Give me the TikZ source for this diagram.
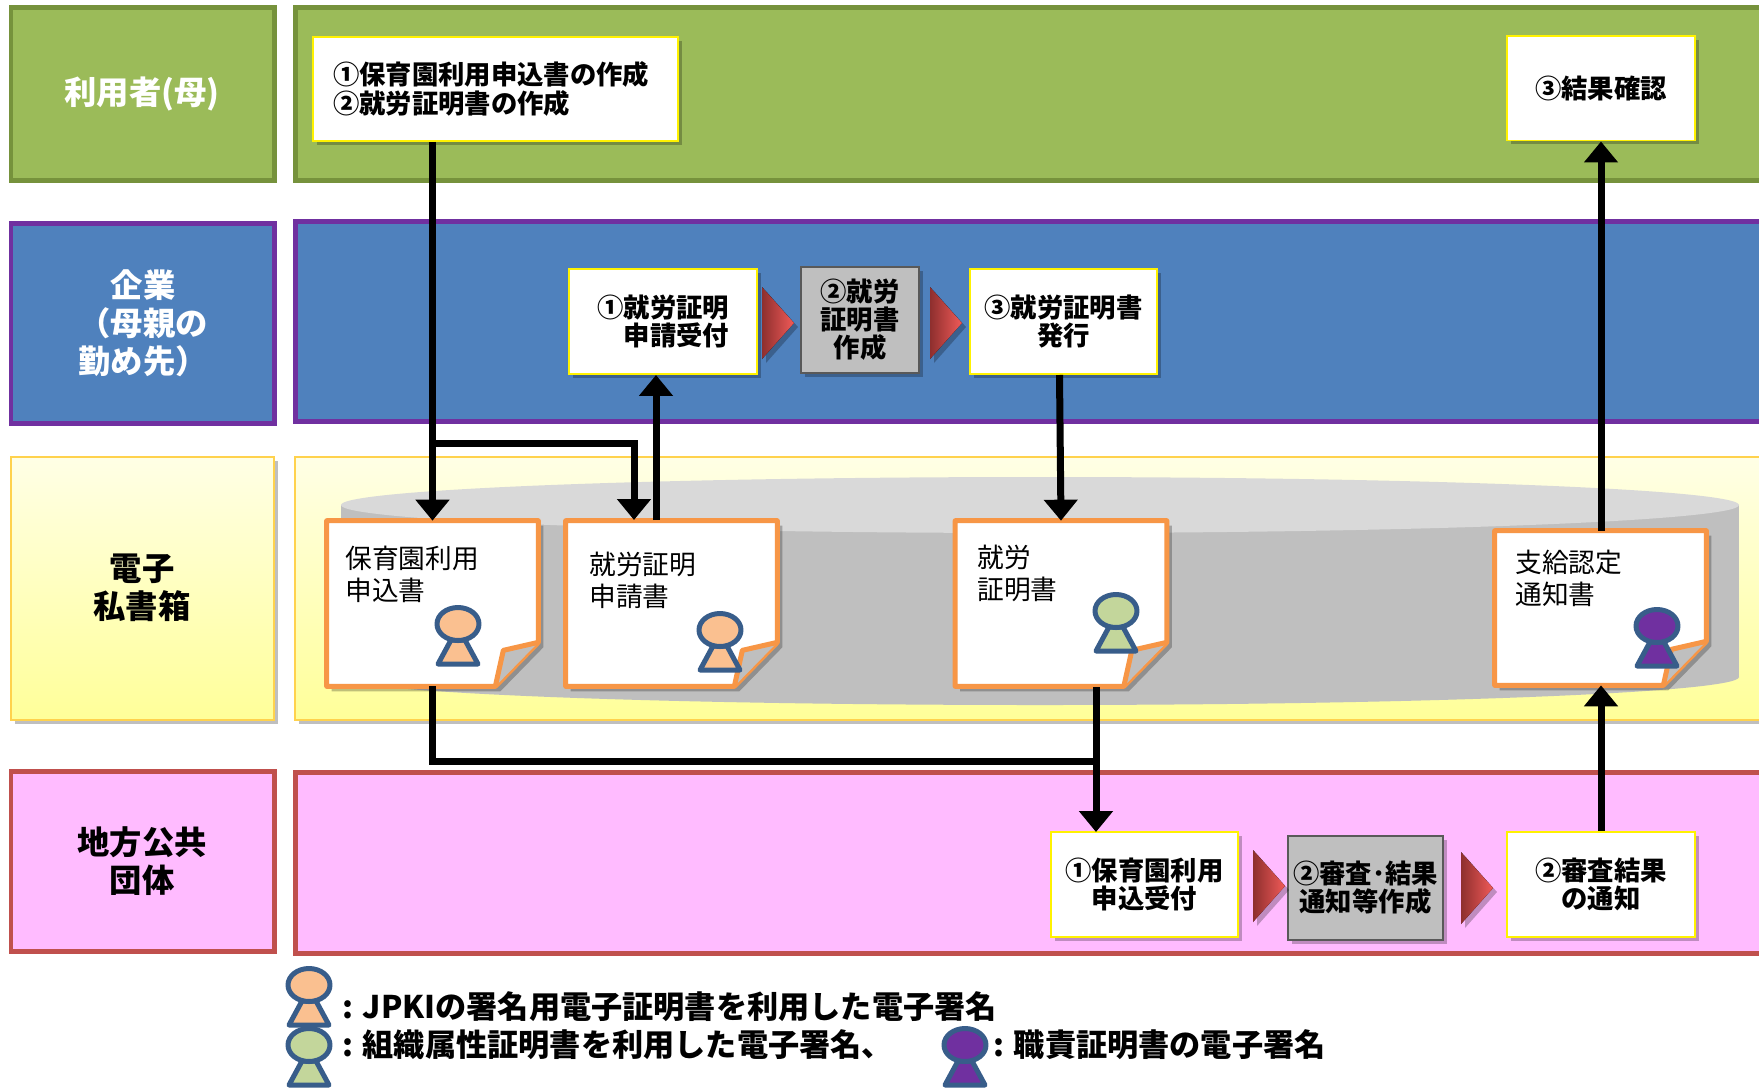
\documentclass[tikz,border=0pt]{standalone}
\usepackage{fontspec}
\usepackage{tikz}
\usetikzlibrary{calc,shadows,arrows.meta}
\newfontfamily\jpfont{Noto Sans CJK JP}
\definecolor{usergreen}{HTML}{9BBB59}
\definecolor{userline}{HTML}{76923C}
\definecolor{firmblue}{HTML}{4F81BD}
\definecolor{firmline}{HTML}{7030A0}
\definecolor{citypink}{HTML}{FFBBFF}
\definecolor{cityline}{HTML}{C0504D}
\definecolor{boxline}{HTML}{FFD24D}
\definecolor{paperorange}{HTML}{F79646}
\definecolor{signblue}{HTML}{385D8A}
\definecolor{signorange}{HTML}{FAC090}
\definecolor{signgreen}{HTML}{C3D69B}
\definecolor{tipdark}{HTML}{8E2F2E}
\definecolor{tipmid}{HTML}{D8413F}
\definecolor{tiplight}{HTML}{F05A58}

% signer mark: x, y of the head, fill colour
\newcommand{\signer}[3]{
    \begin{scope}[shift={(#1,#2)}]
        \draw[signline, fill=#3] (-7,16) -- (7,16) -- (20,40) -- (-20,40) -- cycle;
        \draw[signline, fill=#3] (0,0) ellipse [x radius=21, y radius=16.5];
    \end{scope}
}
% paper outline round a named node, with the folded corner
\newcommand{\paper}[1]{
    \draw[paperline, fill=white, drop shadow={shadow xshift=.1cm,shadow yshift=-.1cm,opacity=.25,fill=black}]
        (#1.north west) -- (#1.north east) -- ($(#1.south east)+(0,-44)$)
        -- ($(#1.south east)+(-43,0)$) -- (#1.south west) -- cycle;
    \draw[paperline, fill=black!25] ($(#1.south east)+(-43,0)$) -- ($(#1.south east)+(-35,-36)$)
        -- ($(#1.south east)+(0,-44)$);
}
% red marker between two steps
\newcommand{\redtip}[2]{
    \fill[tipshade] (#1,#2) --++ (32,36) --++ (-32,36) -- cycle;
}

\begin{document}
\begin{tikzpicture}[
        x=.02cm, y=-.02cm,
        boxfont/.style = {font=\jpfont\bfseries\fontsize{15}{16}\selectfont},
        softshadow/.style = {drop shadow={shadow xshift=.08cm,shadow yshift=-.08cm,opacity=.25,fill=black}},
        whitebox/.style = {boxfont, draw=yellow, fill=white, line width=.04cm, inner sep=0pt, minimum width=3.76cm, minimum height=2.1cm, softshadow},
        graybox/.style = {boxfont, draw=black!65, fill=black!25, line width=.04cm, inner sep=0pt, softshadow},
        rowlabel/.style = {font=\jpfont\bfseries\fontsize{18.4}{21.6}\selectfont, inner sep=0pt},
        doctext/.style = {font=\jpfont\fontsize{15.2}{18.2}\selectfont, align=left, anchor=west, inner sep=0pt},
        legendtext/.style = {font=\jpfont\bfseries\fontsize{17.75}{18}\selectfont, anchor=west, inner sep=0pt},
        docbox/.style = {inner sep=0pt, minimum width=4.22cm, minimum height=3.3cm},
        paperline/.style = {draw=paperorange, line width=.1cm, line join=round},
        signline/.style = {draw=signblue, line width=.1cm, line join=round},
        tipshade/.style = {left color=tipdark, middle color=tipmid, right color=tiplight, softshadow},
        flow/.style = {line width=.14cm, arrows = {-Triangle[width=.66cm, length=.42cm]}},
        plainflow/.style = {line width=.14cm}
    ]
    \path[use as bounding box, clip] (0,0) rectangle (1759,1090);
    \fill[white] (0,0) rectangle (1759,1090);

    % rows
    \draw[line width=.1cm, draw=userline, fill=usergreen] (11,7) rectangle (274,180);
    \draw[line width=.1cm, draw=userline, fill=usergreen] (295,7) rectangle (1790,180);
    \draw[line width=.1cm, draw=firmline, fill=firmblue] (11,223) rectangle (274,423);
    \draw[line width=.1cm, draw=firmline, fill=firmblue] (295,221) rectangle (1790,421);
    \draw[line width=.04cm, draw=boxline, top color=yellow!10, bottom color=yellow!40, softshadow] (11,457) rectangle (274,720);
    \draw[line width=.04cm, draw=boxline, top color=yellow!10, bottom color=yellow!40, softshadow] (295,457) rectangle (1790,720);
    \draw[line width=.1cm, draw=cityline, fill=citypink] (11,771) rectangle (274,951);
    \draw[line width=.1cm, draw=cityline, fill=citypink] (295,772) rectangle (1790,953);

    \node[rowlabel, white] (rowuser) at (142,94) {利用者(母)};
    \node[rowlabel, white, align=left] (rowfirm) at (143,323) {\hspace*{1em}企業\\（母親の\\勤め先）};
    \node[rowlabel, align=center] (rowbox) at (142,588) {電子\\私書箱};
    \node[rowlabel, align=center] (rowcity) at (142,861) {地方公共\\団体};

    % storage
    \fill[black!25] (1040,677) ellipse [x radius=699, y radius=28];
    \fill[black!25] (341,505) rectangle (1739,677);
    \fill[black!15] (1040,505) ellipse [x radius=699, y radius=28];

    % papers
    \node[docbox] (doc1) at (432.5,603.5) {};
    \node[docbox] (doc2) at (671.5,603.5) {};
    \node[docbox] (doc3) at (1061,603.5) {};
    \node[docbox, minimum height=3.08cm] (doc4) at (1600.5,608) {};
    \paper{doc1}
    \paper{doc2}
    \paper{doc3}
    \paper{doc4}
    \node[doctext] (doc1text) at (345,574) {保育園利用\\申込書};
    \node[doctext] (doc2text) at (589,580) {就労証明\\申請書};
    \node[doctext] (doc3text) at (977,573) {就労\\証明書};
    \node[doctext] (doc4text) at (1515,578) {支給認定\\通知書};
    \signer{458}{624}{signorange}
    \signer{720}{630}{signorange}
    \signer{1116}{611}{signgreen}
    \signer{1657}{626}{firmline}

    % steps
    \node[whitebox, align=left, minimum width=7.3cm, minimum height=2.08cm, text width=6.5cm] (userform) at (495.5,89) {①保育園利用申込書の作成\\②就労証明書の作成};
    \node[whitebox, align=center] (userresult) at (1601,88) {③結果確認};
    \node[whitebox, align=left, text width=2.62cm] (firmreceive) at (663,321.5) {①就労証明\\\hspace*{1em}申請受付};
    \node[graybox, align=center, minimum width=2.36cm, minimum height=2.12cm] (firmmake) at (860,320) {②就労\\証明書\\作成};
    \node[whitebox, align=center] (firmissue) at (1063.5,321.5) {③就労証明書\\発行};
    \node[whitebox, align=center] (cityreceive) at (1144.5,884.5) {①保育園利用\\申込受付};
    \node[graybox, align=center, minimum width=3.1cm, minimum height=2.08cm] (citycheck) at (1365.5,888) {②審査･結果\\通知等作成};
    \node[whitebox, align=center] (citynotice) at (1601,884.5) {②審査結果\\の通知};

    \redtip{762}{287}
    \redtip{930}{287}
    \redtip{1253}{850}
    \redtip{1461}{852}

    % junctions and ends that sit off centre
    \coordinate (split) at (432.5,443);
    \coordinate (in2) at (634,520);
    \coordinate (out2) at (656,520);
    \coordinate (out3) at (1096,687);
    \coordinate (merge) at (1096,761);
    \coordinate (in3) at (1096,832);

    % connectors
    \draw[flow] (userform.south -| doc1.north) -- (doc1.north);
    \draw[plainflow] (split) -| ($(in2)+(0,-10)$);
    \draw[flow] (split -| in2) -- (in2);
    \draw[flow] (out2) -- (out2 |- firmreceive.south);
    \draw[flow] ($(firmissue.south)+(-4,0)$) -- (doc3.north);
    \draw[plainflow] (doc1.south) |- (merge);
    \draw[flow] (out3) -- (in3);
    \draw[flow] (citynotice.north) -- (doc4.south -| citynotice.north);
    \draw[flow] (doc4.north -| userresult.south) -- (userresult.south);

    % legend
    \signer{309}{985}{signorange}
    \signer{309}{1045}{signgreen}
    \signer{965}{1045}{firmline}
    \node[legendtext] (legend1) at (342,1007) {: JPKIの署名用電子証明書を利用した電子署名};
    \node[legendtext] (legend2) at (342,1045) {: 組織属性証明書を利用した電子署名、};
    \node[legendtext] (legend3) at (993,1045) {: 職責証明書の電子署名};
\end{tikzpicture}
\end{document}
